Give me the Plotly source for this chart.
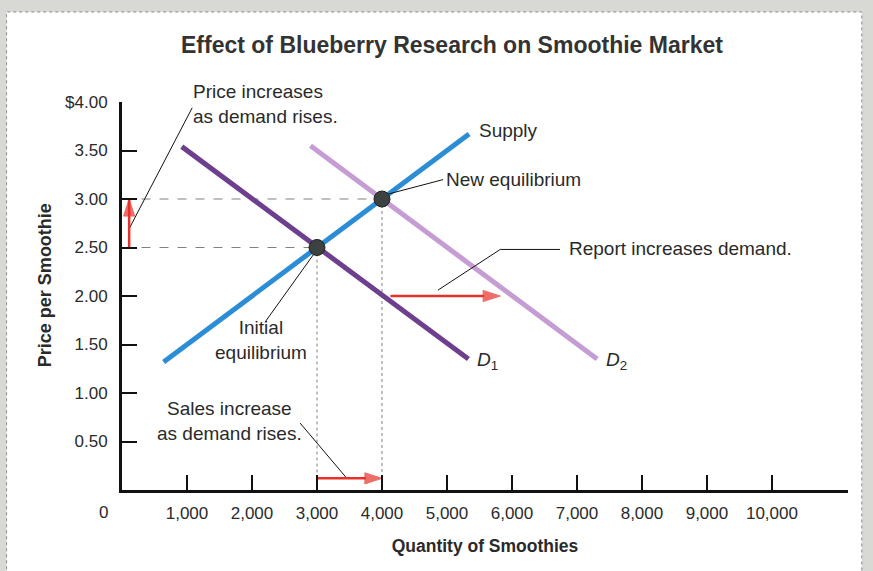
import plotly.graph_objects as go

# curves (quantity, price)
supply_q = [640, 5340]
supply_p = [1.32, 3.67]
d1_q = [920, 5330]
d1_p = [3.54, 1.35]
d2_q = [2900, 7310]
d2_p = [3.55, 1.35]

# equilibria
eq_q = [3000, 4000]
eq_p = [2.50, 3.00]

# shift arrows (start, end)
price_shift_q = [110, 110]
price_shift_p = [2.50, 3.00]
demand_shift_q = [4130, 5820]
demand_shift_p = [2.00, 2.00]
sales_shift_q = [3000, 4000]
sales_shift_p = [0.12, 0.12]

# leader lines for callouts
leader_price_q = [115, 1080]
leader_price_p = [2.70, 3.94]
leader_new_q = [4090, 4940]
leader_new_p = [3.05, 3.20]
leader_report_q = [4860, 5820, 6740]
leader_report_p = [2.06, 2.48, 2.48]
leader_initial_q = [2970, 2200]
leader_initial_p = [2.45, 1.73]
leader_sales_q = [2740, 3460]
leader_sales_p = [0.69, 0.12]

x_ticks = [1000, 2000, 3000, 4000, 5000, 6000, 7000, 8000, 9000, 10000]
x_labels = ["1,000", "2,000", "3,000", "4,000", "5,000", "6,000", "7,000", "8,000", "9,000", "10,000"]
y_ticks = [0.5, 1.0, 1.5, 2.0, 2.5, 3.0, 3.5, 4.0]
y_labels = ["0.50", "1.00", "1.50", "2.00", "2.50", "3.00", "3.50", "$4.00"]

FONT = "Liberation Sans, Arial, sans-serif"
INK = "#2a2a2a"
RED = "#e8302a"

fig = go.Figure()

# dashed guides from the equilibria to the axes
for q, p in zip(eq_q, eq_p):
    fig.add_trace(go.Scatter(x=[300, q], y=[p, p], mode="lines",
                             line=dict(color="#808080", width=1, dash="dash"),
                             hoverinfo="skip"))
    fig.add_trace(go.Scatter(x=[q, q], y=[p, 0.16], mode="lines",
                             line=dict(color="#808080", width=1, dash="dot"),
                             hoverinfo="skip"))

fig.add_trace(go.Scatter(x=d2_q, y=d2_p, mode="lines", name="D2",
                         line=dict(color="#c59dd4", width=5)))
fig.add_trace(go.Scatter(x=d1_q, y=d1_p, mode="lines", name="D1",
                         line=dict(color="#6d3f8e", width=5)))
fig.add_trace(go.Scatter(x=supply_q, y=supply_p, mode="lines", name="Supply",
                         line=dict(color="#2b8dd6", width=5)))

for lq, lp in [(leader_price_q, leader_price_p), (leader_new_q, leader_new_p),
               (leader_report_q, leader_report_p), (leader_initial_q, leader_initial_p),
               (leader_sales_q, leader_sales_p)]:
    fig.add_trace(go.Scatter(x=lq, y=lp, mode="lines",
                             line=dict(color="#111", width=1), hoverinfo="skip"))

fig.add_trace(go.Scatter(x=eq_q, y=eq_p, mode="markers", name="Equilibrium",
                         marker=dict(size=16, color="#3c423f",
                                     line=dict(color="#1e221f", width=1))))

# red shift arrows: line with an arrowhead marker at the end point
for sq, sp in [(price_shift_q, price_shift_p), (demand_shift_q, demand_shift_p),
               (sales_shift_q, sales_shift_p)]:
    fig.add_trace(go.Scatter(x=sq, y=sp, mode="lines+markers",
                             line=dict(color=RED, width=2.5),
                             marker=dict(symbol="arrow", size=[0, 18], color=RED,
                                         line=dict(color=RED, width=1),
                                         angleref="previous"),
                             hoverinfo="skip"))

labels = [
    (1060, 3.975, "Price increases<br>as demand rises.", "left"),
    (5460, 3.71, "Supply", "left"),
    (4950, 3.20, "New equilibrium", "left"),
    (6850, 2.485, "Report increases demand.", "left"),
    (5430, 1.33, "<i>D</i><sub>1</sub>", "left"),
    (7420, 1.33, "<i>D</i><sub>2</sub>", "left"),
    (2140, 1.55, "Initial<br>equilibrium", "center"),
    (1660, 0.71, "Sales increase<br>as demand rises.", "center"),
]
for x, y, t, anchor in labels:
    fig.add_annotation(x=x, y=y, xref="x", yref="y", text=t, showarrow=False,
                       xanchor=anchor, yanchor="middle", align=anchor,
                       font=dict(family=FONT, size=19, color=INK))

# origin label and y-axis title
fig.add_annotation(x=-0.026, y=-0.059, xref="paper", yref="paper", text="0",
                   xanchor="center", yanchor="middle", showarrow=False,
                   font=dict(family=FONT, size=17, color=INK))
fig.add_annotation(x=-0.106, y=0.528, xref="paper", yref="paper",
                   text="<b>Price per Smoothie</b>", textangle=-90, showarrow=False,
                   xanchor="center", yanchor="middle",
                   font=dict(family=FONT, size=18, color=INK))

# page panel
fig.add_shape(type="rect", xref="paper", yref="paper", x0=-0.159, x1=1.019,
              y0=-0.23, y1=1.232, fillcolor="white",
              line=dict(color="#8a8a8a", width=1, dash="dot"), layer="below")

fig.update_layout(
    width=873, height=571,
    margin=dict(l=122, r=25, t=102, b=81),
    paper_bgcolor="#d8d8d4",
    plot_bgcolor="rgba(0,0,0,0)",
    showlegend=False,
    title=dict(text="<b>Effect of Blueberry Research on Smoothie Market</b>",
               x=0.4545, xref="paper", xanchor="center",
               y=0.921, yanchor="middle",
               font=dict(family=FONT, size=23, color="#333")),
    xaxis=dict(range=[0, 11170], showgrid=False, zeroline=False,
               showline=True, linecolor="#111", linewidth=3,
               ticks="inside", ticklen=15, tickwidth=1.5, tickcolor="#111",
               tickvals=x_ticks, ticktext=x_labels, ticklabelstandoff=6,
               tickfont=dict(family=FONT, size=17, color=INK)),
    yaxis=dict(range=[0, 4], showgrid=False, zeroline=False,
               showline=True, linecolor="#111", linewidth=3,
               ticks="inside", ticklen=15, tickwidth=1.5, tickcolor="#111",
               tickvals=y_ticks, ticktext=y_labels, ticklabelstandoff=8,
               tickfont=dict(family=FONT, size=17, color=INK)),
)
fig.update_xaxes(title=dict(text="<b>Quantity of Smoothies</b>", standoff=18,
                            font=dict(family=FONT, size=17.5, color=INK)))

fig.write_html("out.html", config={"displayModeBar": False},
               post_script="document.body.style.margin='0';")
